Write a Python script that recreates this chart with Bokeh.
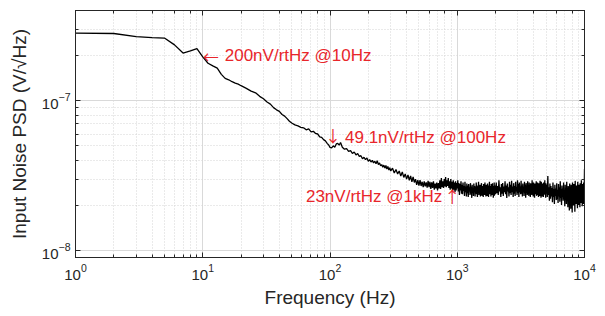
from bokeh.plotting import figure
from bokeh.models import LogAxis, Label, FixedTicker
from bokeh.embed import file_html
from bokeh.resources import INLINE

# ---- data (frequency in Hz, PSD in nV/rtHz) ----
freq_low = [1, 2, 3, 4, 5, 6, 7, 8, 9, 10, 11, 12, 13, 14, 15, 16, 17, 18, 19, 20,
            22, 24, 26, 28, 30, 32, 34, 36, 38, 40, 42, 44, 46, 48, 50, 53, 56, 59,
            62, 65, 68, 71, 74, 77, 80, 83, 86, 89, 92, 95, 98, 100]
psd_low = [283, 281, 268, 264, 262, 236, 208, 215, 223, 196, 178, 171, 165, 150, 141,
           138, 134, 131, 129, 126, 121, 116, 113, 107, 103, 98, 95, 90, 87, 85, 81,
           79, 76, 73, 71, 69, 68, 66.5, 66, 64, 65, 62, 62.5, 60.5, 60, 57.5, 57, 55,
           54, 52, 50.5, 48.8]

freq_mid = [103, 106, 109, 112, 115, 118, 121, 125, 130, 135, 140, 145, 150, 155, 160,
            165, 170, 175, 180, 185, 190, 195, 200, 205, 210, 215, 220, 225, 230, 235,
            240, 245, 250, 255, 260, 265, 270, 275, 280, 285, 290, 295, 300]
psd_mid = [48.5, 50, 49, 51.5, 52, 50.5, 52.7, 49, 47.5, 48, 46, 46.5, 44.5, 45.5, 43.5,
           44.5, 42.5, 43, 41, 42, 40.5, 41.5, 39.5, 40.5, 39, 40, 38.5, 39.5, 38, 39.8,
           37.5, 38.5, 36.8, 37.5, 36, 37.2, 35.5, 37, 35, 36.5, 34.5, 35.8, 34]

freq_hi1 = [310, 320, 330, 340, 350, 360, 370, 380, 390, 400, 410, 420, 430, 440, 450,
            460, 470, 480, 490, 500, 510, 520, 530, 540, 550, 560, 570, 580, 590, 600,
            610, 620, 630, 640, 650, 660, 670, 680, 690, 700, 710, 720, 730, 740, 750,
            760, 770, 780, 790, 800, 810, 820, 830, 840, 850, 860, 870, 880, 890, 900,
            910, 920, 930, 940, 950, 960, 970, 980, 990, 1000]
psd_hi1 = [35.5, 33, 34.8, 32.5, 34, 31.5, 33.5, 30.8, 32.5, 30, 32, 29.5, 31.5, 28.8, 31,
           28.5, 30, 27.5, 29.5, 27.2, 29.5, 27, 28.8, 26.5, 29, 26.8, 28.5, 26.3, 29.2, 26.5,
           28.8, 25.8, 28.5, 26.2, 29, 25.5, 28, 26, 28.5, 25.2, 28.2, 26, 29.5, 25.8, 30.5,
           26.5, 29, 26.2, 30, 26.8, 31, 26.5, 29.5, 27, 30.5, 26.2, 29, 25.5, 30, 26,
           28.8, 24.8, 29.5, 25.5, 28.5, 24.5, 29, 25.2, 28.2, 26]

freq_hi2 = [1010, 1020, 1030, 1040, 1050, 1060, 1070, 1080, 1090, 1100,
            1110, 1120, 1130, 1140, 1150, 1160, 1170, 1180, 1190, 1200,
            1210, 1220, 1230, 1240, 1250, 1260, 1270, 1280, 1290, 1300,
            1310, 1320, 1330, 1340, 1350, 1360, 1370, 1380, 1390, 1400,
            1410, 1420, 1430, 1440, 1450, 1460, 1470, 1480, 1490, 1500,
            1510, 1520, 1530, 1540, 1550, 1560, 1570, 1580, 1590, 1600,
            1610, 1620, 1630, 1640, 1650, 1660, 1670, 1680, 1690, 1700,
            1710, 1720, 1730, 1740, 1750, 1760, 1770, 1780, 1790, 1800,
            1810, 1820, 1830, 1840, 1850, 1860, 1870, 1880, 1890, 1900,
            1910, 1920, 1930, 1940, 1950, 1960, 1970, 1980, 1990, 2000]
psd_hi2 = [29.5, 24.8, 28.2, 23.5, 27.8, 25.2, 29, 24, 27.5, 23.8,
           28.5, 25, 27, 23.2, 28.8, 24.5, 26.8, 23, 28, 24.2,
           27.2, 22.8, 27.8, 24.8, 26.5, 23.5, 28.2, 24, 26.8, 22.5,
           27.5, 24.5, 26.2, 23.2, 28, 24.8, 27, 23, 26.5, 24,
           28.5, 23.8, 26.8, 22.8, 27.2, 24.2, 28.8, 23.5, 26.5, 24.5,
           27.5, 23, 26.2, 24.8, 28.2, 23.2, 27, 24, 26.5, 22.8,
           27.8, 24.5, 26.8, 23.5, 28.5, 24.2, 26.2, 23, 27.5, 24.8,
           26.8, 23.2, 28, 24.5, 27.2, 22.8, 26.5, 24, 28.8, 23.8,
           27, 24.5, 26.2, 23, 27.8, 24.8, 26.5, 23.5, 28.2, 24.2,
           27, 22.5, 26.8, 24, 28.5, 23.2, 27.2, 24.5, 26.5, 23.8]

freq_hi3 = [2025, 2050, 2075, 2100, 2125, 2150, 2175, 2200, 2225, 2250,
            2275, 2300, 2325, 2350, 2375, 2400, 2425, 2450, 2475, 2500,
            2525, 2550, 2575, 2600, 2625, 2650, 2675, 2700, 2725, 2750,
            2775, 2800, 2825, 2850, 2875, 2900, 2925, 2950, 2975, 3000,
            3025, 3050, 3075, 3100, 3125, 3150, 3175, 3200, 3225, 3250,
            3275, 3300, 3325, 3350, 3375, 3400, 3425, 3450, 3475, 3500,
            3525, 3550, 3575, 3600, 3625, 3650, 3675, 3700, 3725, 3750,
            3775, 3800, 3825, 3850, 3875, 3900, 3925, 3950, 3975, 4000,
            4025, 4050, 4075, 4100, 4125, 4150, 4175, 4200, 4225, 4250,
            4275, 4300, 4325, 4350, 4375, 4400, 4425, 4450, 4475, 4500,
            4525, 4550, 4575, 4600, 4625, 4650, 4675, 4700, 4725, 4750,
            4775, 4800, 4825, 4850, 4875, 4900, 4925, 4950, 4975, 5000]
psd_hi3 = [28.5, 24.2, 27, 23.5, 29.5, 24.8, 26.5, 22.8, 27.8, 24,
           28.2, 23.2, 26.8, 24.5, 29, 23.8, 27.2, 22.5, 28, 24.8,
           26.5, 23, 28.8, 24.2, 27.5, 23.5, 29.2, 24.5, 26.8, 22.8,
           28.2, 24, 27, 23.2, 28.8, 24.8, 26.5, 23.5, 29.5, 24.2,
           27.8, 22.8, 28.5, 24.5, 26.8, 23.8, 29.3, 24, 27.2, 23,
           28, 24.8, 26.5, 23.2, 28.8, 24.2, 27.5, 22.5, 28.2, 24.5,
           27, 23.5, 29, 24, 26.8, 23.2, 28.5, 24.8, 27.2, 22.8,
           28.2, 24.2, 26.5, 23.5, 29.5, 24, 27.8, 23, 28.5, 24.5,
           26.8, 22.5, 28, 24.2, 27.2, 23.8, 29, 23.2, 26.5, 24.8,
           28.5, 23.5, 27, 22.8, 28.2, 24.5, 26.8, 23.2, 29.2, 24,
           27.5, 22.5, 28.8, 24.2, 26.5, 23, 28, 24.5, 27.2, 22.8,
           28.5, 23.8, 27, 24.2, 29.5, 23.5, 26.8, 22.5, 28.2, 24]

freq_hi4 = [5050, 5100, 5150, 5200, 5250, 5300, 5350, 5400, 5450, 5500,
            5550, 5600, 5650, 5700, 5750, 5800, 5850, 5900, 5950, 6000,
            6050, 6100, 6150, 6200, 6250, 6300, 6350, 6400, 6450, 6500,
            6550, 6600, 6650, 6700, 6750, 6800, 6850, 6900, 6950, 7000,
            7050, 7100, 7150, 7200, 7250, 7300, 7350, 7400, 7450, 7500,
            7550, 7600, 7650, 7700, 7750, 7800, 7850, 7900, 7950, 8000,
            8050, 8100, 8150, 8200, 8250, 8300, 8350, 8400, 8450, 8500,
            8550, 8600, 8650, 8700, 8750, 8800, 8850, 8900, 8950, 9000,
            9050, 9100, 9150, 9200, 9250, 9300, 9350, 9400, 9450, 9500,
            9550, 9600, 9650, 9700, 9750, 9800, 9850, 9900, 9950, 10000]
psd_hi4 = [27.5, 22.8, 31.5, 23.5, 26.5, 21.5, 28, 22.2, 27, 23,
           26.2, 21, 28.5, 22.8, 25.8, 20.5, 27.5, 23.2, 26, 21.8,
           28.2, 22, 25.5, 20.8, 27.8, 23, 26.5, 21.2, 29, 22.5,
           25.8, 20.2, 27.2, 22.8, 26, 21.5, 28.5, 22, 25.5, 19.8,
           27.5, 22.5, 26.2, 20.5, 28.8, 21.8, 25.2, 19.5, 27, 22.2,
           26.5, 18.5, 28, 21.2, 25.8, 19, 27.5, 22.5, 26.2, 18,
           28.5, 21.5, 25.5, 20, 27.8, 22.2, 26.8, 18.2, 29.2, 21,
           25.8, 20.5, 27.2, 22.8, 26, 19.2, 28.8, 21.8, 25.2, 20.2,
           27.5, 22.5, 26.5, 19.5, 28.2, 21.2, 25.8, 20.8, 29.5, 22,
           26.2, 19.8, 27.8, 21.5, 26.5, 20.5, 28.5, 22.2, 24.5, 35]

y_major_ticks = [1e-8, 1e-7]
y_minor_ticks = [9e-9, 2e-8, 3e-8, 4e-8, 5e-8, 6e-8, 7e-8, 8e-8, 9e-8, 2e-7, 3e-7, 4e-7]

notes_x = [10, 100, 1000]
notes_y = [200e-9, 49.1e-9, 23e-9]
notes_text = ["200nV/rtHz @10Hz", "49.1nV/rtHz @100Hz", "23nV/rtHz @1kHz"]
notes_arrow = ["\u2190", "\u2193", "\u2191"]

freq = freq_low + freq_mid + freq_hi1 + freq_hi2 + freq_hi3 + freq_hi4
psd = [v * 1e-9 for v in psd_low + psd_mid + psd_hi1 + psd_hi2 + psd_hi3 + psd_hi4]

FONT = "Liberation Sans"
ARROW_FONT = "Noto Sans CJK JP"
DARK = "#262626"
RED = "#e8262b"

p = figure(width=600, height=312, x_axis_type="log", y_axis_type="log",
           x_range=(1, 1e4), y_range=(9e-9, 4e-7),
           output_backend="svg", toolbar_location=None,
           min_border_left=75, min_border_right=16, min_border_top=10, min_border_bottom=55)
p.background_fill_color = "white"
p.border_fill_color = "white"
p.outline_line_color = DARK
p.outline_line_width = 1

p.line(freq, psd, line_color="black", line_width=1.3)

yticker = FixedTicker(ticks=y_major_ticks, minor_ticks=y_minor_ticks)
p.yaxis.ticker = yticker
p.ygrid.ticker = yticker

for ax in (p.xaxis[0], p.yaxis[0]):
    ax.axis_line_color = DARK
    ax.major_tick_line_color = DARK
    ax.minor_tick_line_color = DARK
    ax.major_tick_in = 5
    ax.major_tick_out = 0
    ax.minor_tick_in = 3
    ax.minor_tick_out = 0
    ax.major_label_text_font = FONT
    ax.major_label_text_font_size = "15px"
    ax.major_label_text_color = DARK
    ax.axis_label_text_font = FONT
    ax.axis_label_text_font_size = "19px"
    ax.axis_label_text_font_style = "normal"
    ax.axis_label_text_color = DARK

p.xaxis.axis_label = "Frequency (Hz)"
p.yaxis.axis_label = "Input Noise PSD (V/\u221aHz)"
p.xaxis.major_label_standoff = 6
p.yaxis.major_label_standoff = 5
p.xaxis.axis_label_standoff = 4
p.yaxis.axis_label_standoff = 9

for loc in ("above", "right"):
    ax = LogAxis()
    if loc == "right":
        ax.ticker = FixedTicker(ticks=y_major_ticks, minor_ticks=y_minor_ticks)
    ax.axis_line_color = DARK
    ax.major_tick_line_color = DARK
    ax.minor_tick_line_color = DARK
    ax.major_tick_in = 5
    ax.major_tick_out = 0
    ax.minor_tick_in = 3
    ax.minor_tick_out = 0
    ax.major_label_text_font_size = "1px"
    ax.major_label_text_color = None
    ax.major_label_standoff = 0
    p.add_layout(ax, loc)

for g in (p.xgrid[0], p.ygrid[0]):
    g.grid_line_color = "#d9d9d9"
    g.grid_line_width = 1
    g.minor_grid_line_color = "#d4d4d4"
    g.minor_grid_line_dash = "1 2"
    g.minor_grid_line_width = 1

# arrows (thin full-width glyphs) and annotation texts
arrow_align = ["left", "left", "right"]
arrow_base = ["middle", "bottom", "middle"]
arrow_dx = [0, -5, 3]
text_align = ["left", "left", "right"]
text_dx = [22, 15, -15]
for x, y, t, ar, aa, ab, adx, ta, tdx in zip(notes_x, notes_y, notes_text, notes_arrow,
                                            arrow_align, arrow_base, arrow_dx,
                                            text_align, text_dx):
    p.add_layout(Label(x=x, y=y, text=ar, text_align=aa, text_baseline=ab, x_offset=adx,
                       text_color=RED, text_font=ARROW_FONT, text_font_size="16px"))
    p.add_layout(Label(x=x, y=y, text=t, text_align=ta, text_baseline=ab, x_offset=tdx,
                       text_color=RED, text_font=FONT, text_font_size="17px"))

open("out.html", "w").write(file_html(p, INLINE))
